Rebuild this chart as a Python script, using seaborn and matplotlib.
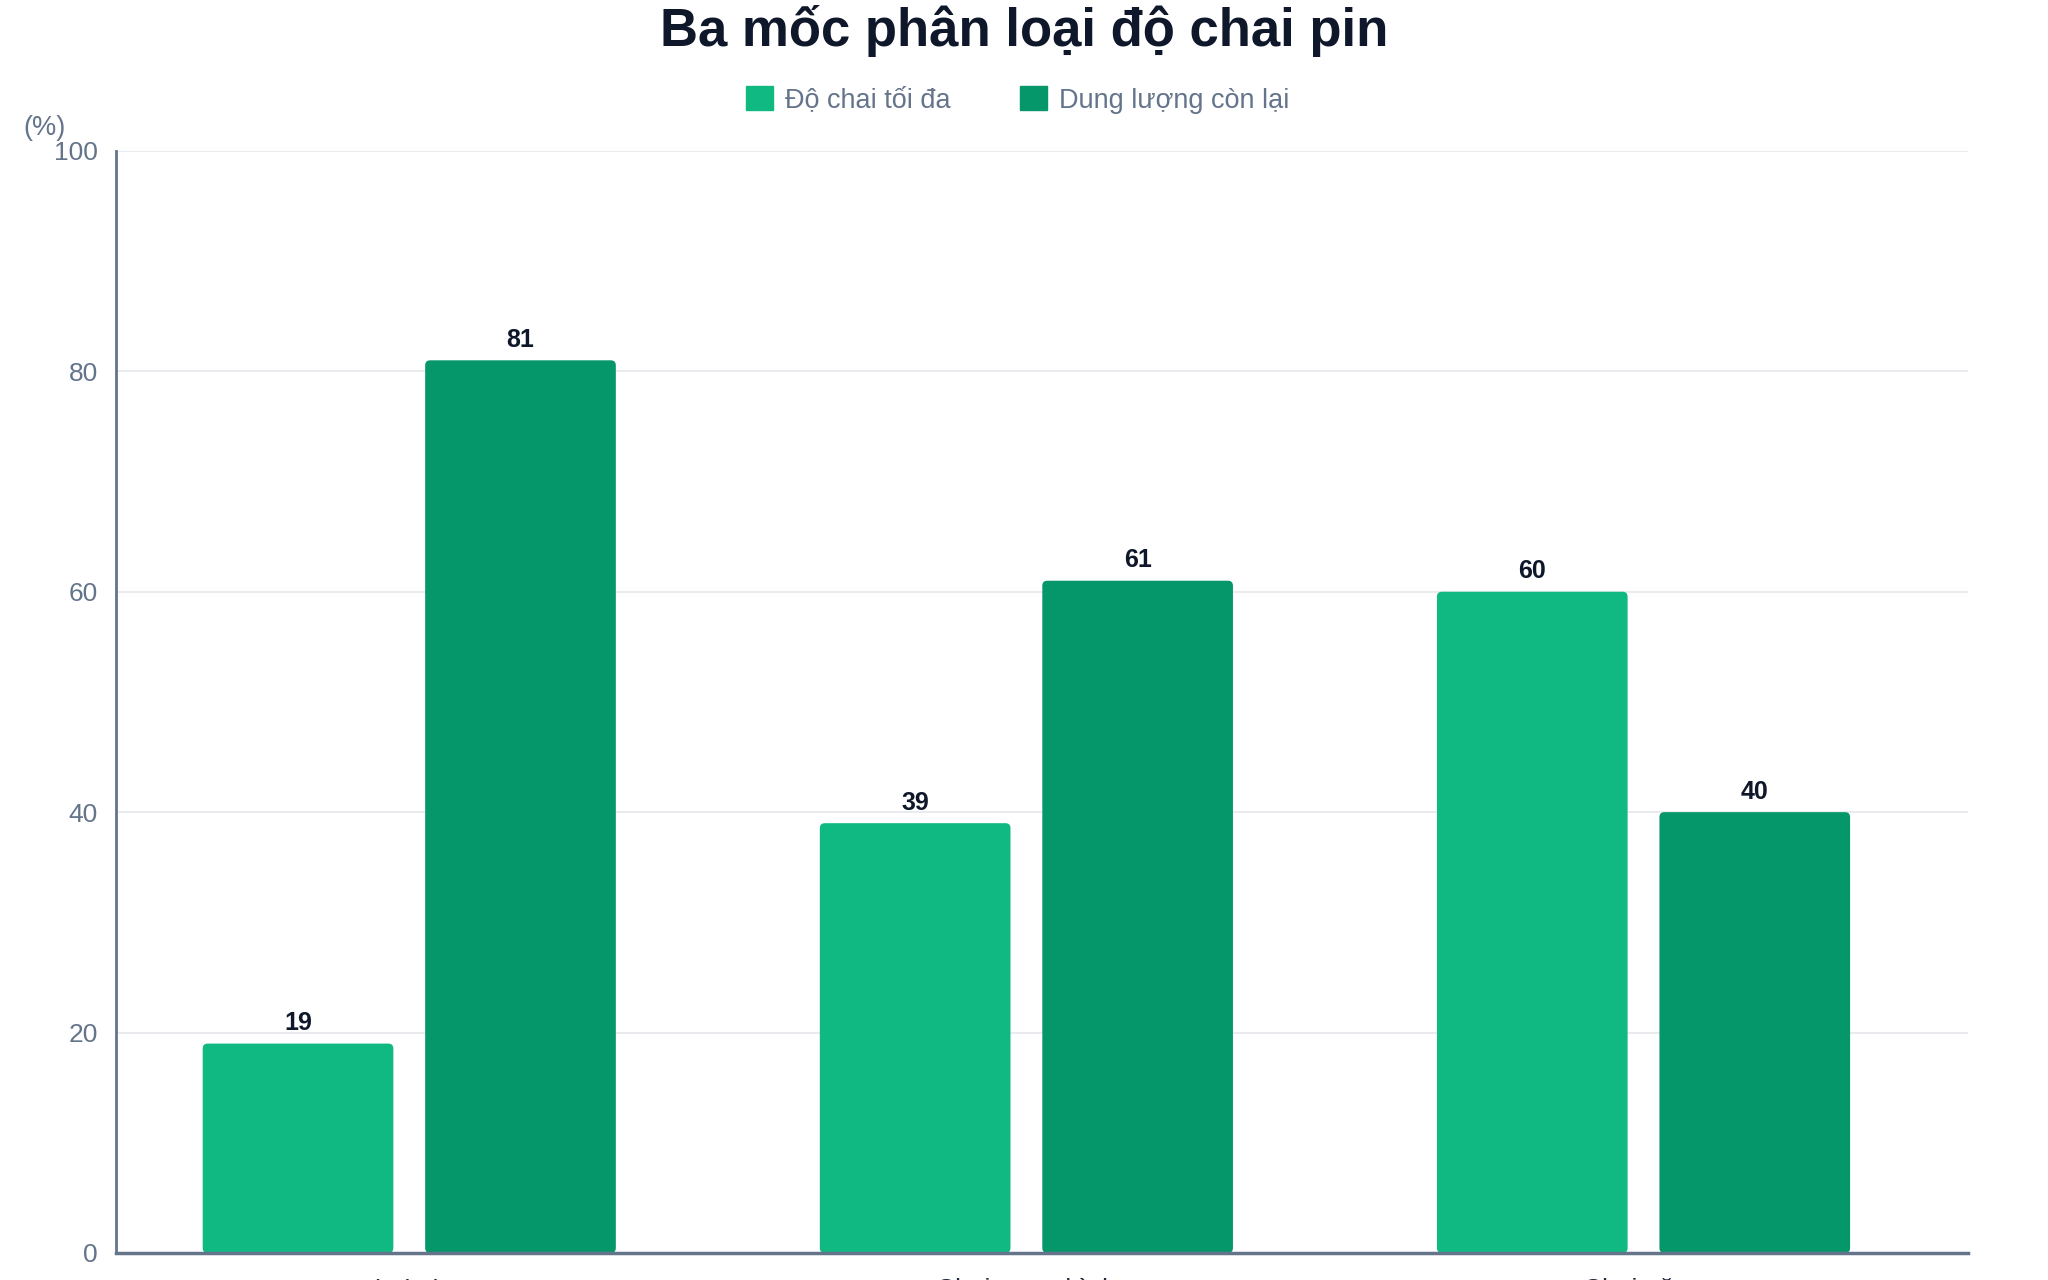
import pandas as pd
import matplotlib.pyplot as plt
from matplotlib.patches import FancyBboxPatch
import seaborn as sns

# dữ liệu
categories = ['Chai nhẹ', 'Chai trung bình', 'Chai nặng']
series_names = ['Độ chai tối đa', 'Dung lượng còn lại']
do_chai = [19, 39, 60]
dung_luong = [81, 61, 40]

df = pd.DataFrame({
    'cat': categories * 2,
    'series': [series_names[0]] * 3 + [series_names[1]] * 3,
    'value': do_chai + dung_luong,
})

sns.set_theme(style='white')
plt.rcParams['font.family'] = ['Liberation Sans', 'DejaVu Sans']

slate = '#64748b'
colors = ['#10b981', '#059669']

fig = plt.figure(figsize=(20.48, 12.8), dpi=100)
ax = fig.add_axes([0.0567, 0.0211, 0.904, 0.861])

sns.barplot(data=df, x='cat', y='value', hue='series', palette=colors,
            width=0.721, gap=0.143, saturation=1, ax=ax, legend=False, zorder=3)

for c in ax.containers:
    ax.bar_label(c, padding=6, fontsize=18, fontweight='bold', color='#0f172a')

ax.set_ylim(0, 100)
ax.set_yticks([0, 20, 40, 60, 80, 100])
ax.set_xlim(-0.475, 2.525)

# bo góc cột
ax_w = 0.904 * 2048
ax_h = 0.861 * 1280
px_x = 3.0 / ax_w
px_y = 100.0 / ax_h
r = 5 * px_x
for p in list(ax.patches):
    bx, by = p.get_x(), p.get_y()
    bw, bh = p.get_width(), p.get_height()
    fb = FancyBboxPatch((bx, by), bw, bh,
                        boxstyle=f'round,pad=0,rounding_size={r}',
                        mutation_aspect=px_y / px_x,
                        facecolor=p.get_facecolor(), edgecolor='none', zorder=3)
    ax.add_patch(fb)
    p.remove()

ax.grid(axis='y', color='#e5e7eb', linewidth=1.2, zorder=0)
ax.set_axisbelow(True)
ax.set_xlabel('')
ax.set_ylabel('')
ax.tick_params(axis='y', length=0, pad=13, labelsize=19, labelcolor=slate)
ax.tick_params(axis='x', length=0, pad=18, labelsize=19, labelcolor='#1e293b')

for s in ['top', 'right']:
    ax.spines[s].set_visible(False)
ax.spines['left'].set_color(slate)
ax.spines['left'].set_linewidth(2)
ax.spines['bottom'].set_color(slate)
ax.spines['bottom'].set_linewidth(2.5)
ax.spines['bottom'].set_zorder(4)

fig.text(0.5, 0.996, 'Ba mốc phân loại độ chai pin', ha='center', va='top',
         fontsize=38, fontweight='bold', color='#0f172a')
fig.text(0.0115, 0.9, '(%)', ha='left', va='center', fontsize=19.5, color=slate)

handles = [FancyBboxPatch((0, 0), 1, 1, boxstyle='round,pad=0,rounding_size=0.15',
                          color=col) for col in colors]
fig.legend(handles, series_names, loc='center', bbox_to_anchor=(0.4968, 0.922),
           ncol=2, frameon=False, fontsize=19.5, labelcolor=slate,
           handlelength=1.0, handleheight=1.0, handletextpad=0.45,
           columnspacing=2.55)

fig.savefig('out.png', dpi=100)
